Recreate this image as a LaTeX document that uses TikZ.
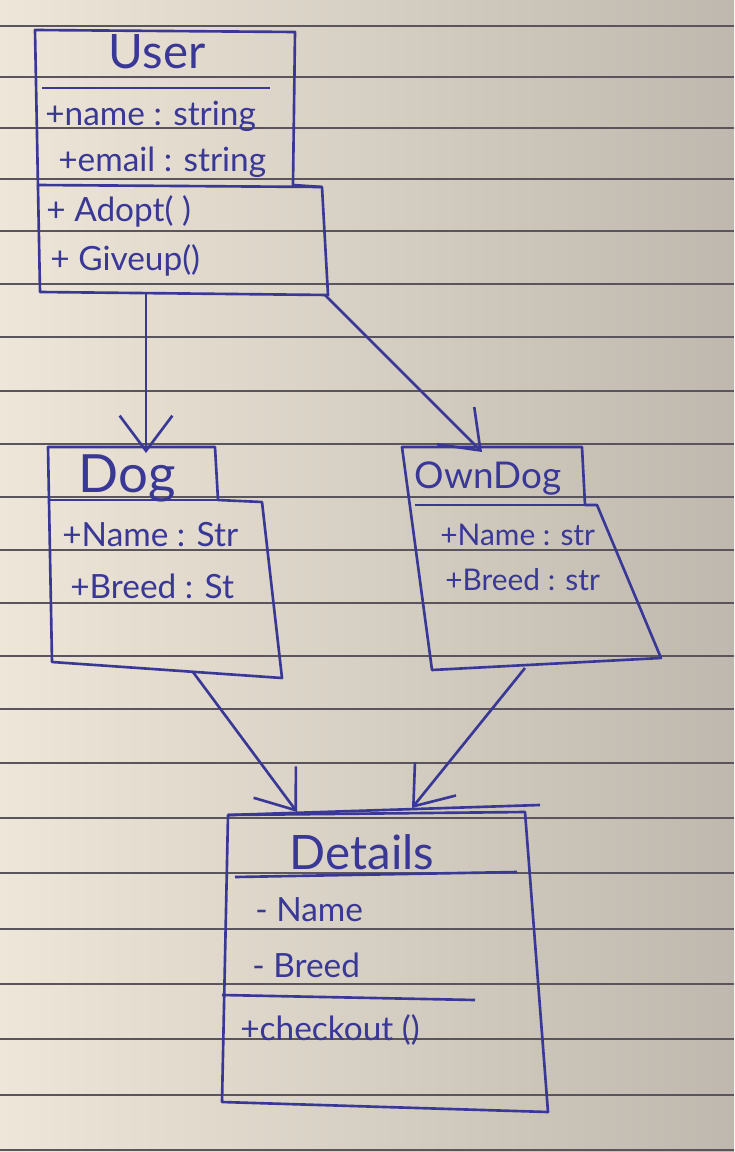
\documentclass[tikz,border=0pt]{standalone}
\usepackage{fontspec}
\setmainfont{Lato}
\usetikzlibrary{arrows.meta}
\definecolor{ink}{RGB}{58,56,150}
\definecolor{paperL}{RGB}{238,230,216}
\definecolor{paperR}{RGB}{190,184,174}
\definecolor{ruling}{RGB}{90,84,92}

\begin{document}
\begin{tikzpicture}[
    x=0.02cm, y=-0.02cm,
    cls/.style={draw=ink, line width=1.5pt, line join=round},
    ttl/.style={text=ink, font=\fontsize{27}{29}\selectfont, inner sep=0pt},
    attr/.style={text=ink, font=\fontsize{19}{21}\selectfont, anchor=west, inner sep=0pt},
    inh/.style={cls, -{Straight Barb[length=20pt, width=30pt]}},
  ]
  \shade[left color=paperL, right color=paperR] (0,0) rectangle (734,1152);
  \useasboundingbox (0,0) rectangle (734,1152);
  \foreach \ry in {26,77,128,179,231,284,337,391,444,497,550,603,656,709,763,818,873,929,984,1039,1095,1150}
    \draw[ruling, line width=0.6pt] (0,\ry) -- (734,\ry);

  \draw[cls] (35,30) -- (295,32) -- (293,185) -- (322,187) -- (328,295) -- (40,292) -- cycle;
  \draw[cls] (42,88) -- (270,88);
  \draw[cls] (37,185) -- (322,187);
  \node[ttl] (user) at (157,52) {User};
  \node[attr] (u1) at (45,116) {+name : string};
  \node[attr] (u2) at (58,162) {+email : string};
  \node[attr] (u3) at (46,211) {+ Adopt( )};
  \node[attr] (u4) at (50,260) {+ Giveup()};

  \draw[cls] (48,447) -- (215,447) -- (218,500) -- (262,502) -- (282,678) -- (52,662) -- cycle;
  \draw[cls] (48,500) -- (218,500);
  \node[ttl, font=\fontsize{30}{32}\selectfont] (dog) at (127,478) {Dog};
  \node[attr] (d1) at (62,535) {+Name : Str};
  \node[attr] (d2) at (70,586) {+Breed : St};

  \draw[cls] (402,447) -- (582,447) -- (585,505) -- (597,505) -- (661,658) -- (432,670) -- cycle;
  \draw[cls] (415,505) -- (585,505);
  \node[ttl, font=\fontsize{21}{23}\selectfont] (owndog) at (488,478) {OwnDog};
  \node[attr, font=\fontsize{17}{19}\selectfont] (o1) at (440,535) {+Name : str};
  \node[attr, font=\fontsize{17}{19}\selectfont] (o2) at (445,580) {+Breed : str};

  \draw[cls] (228,815) -- (540,805);
  \draw[cls] (228,815) -- (525,812) -- (548,1112) -- (222,1102) -- cycle;
  \draw[cls] (235,877) -- (517,872);
  \draw[cls] (222,995) -- (475,1000);
  \node[ttl] (details) at (362,852) {Details};
  \node[attr] (t1) at (255,910) {- Name};
  \node[attr] (t2) at (252,965) {- Breed};
  \node[attr] (t3) at (240,1030) {+checkout ()};

  \coordinate (userS) at (146,292);
  \coordinate (userE) at (325,295);
  \coordinate (dogN) at (146,453);
  \coordinate (owndogN) at (482,452);
  \coordinate (dogS) at (193,672);
  \coordinate (owndogS) at (525,668);
  \coordinate (detailsL) at (297,812);
  \coordinate (detailsR) at (412,808);
  \draw[inh] (userS) -- (dogN);
  \draw[inh] (userE) -- (owndogN);
  \draw[inh] (dogS) -- (detailsL);
  \draw[inh] (owndogS) -- (detailsR);
\end{tikzpicture}
\end{document}
